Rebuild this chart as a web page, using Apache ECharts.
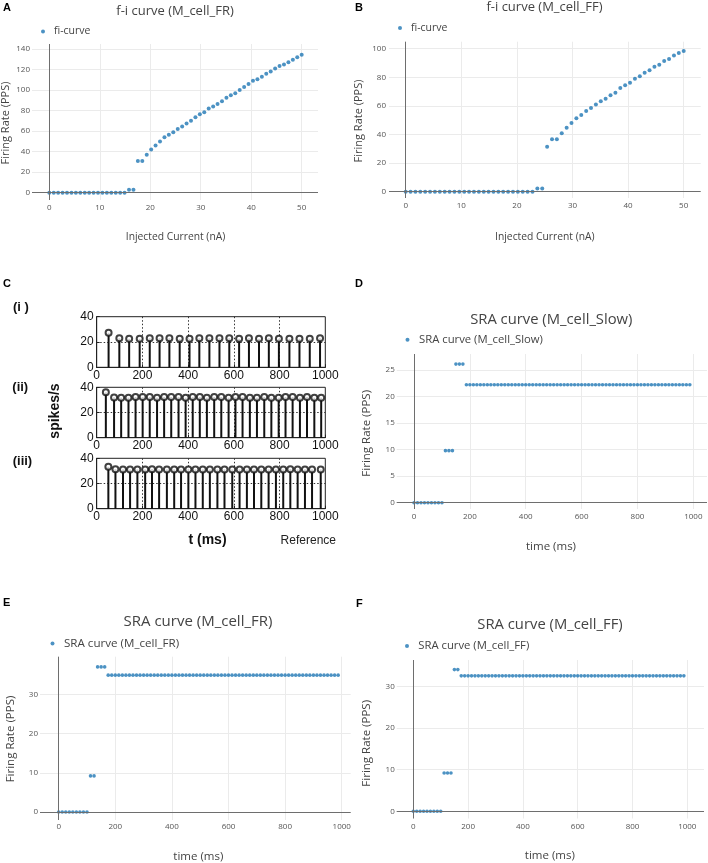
<!DOCTYPE html>
<html><head><meta charset="utf-8">
<script src="https://cdn.jsdelivr.net/npm/echarts@6/dist/echarts.min.js"></script>
<style>html,body{margin:0;padding:0;background:#fff}#c{width:708px;height:863px}</style>
</head><body><div id="c"></div>
<script>
// ---------- data ----------
const fiCurrent = [0,0.88,1.75,2.63,3.51,4.39,5.26,6.14,7.02,7.89,
  8.77,9.65,10.53,11.4,12.28,13.16,14.04,14.91,15.79,16.67,
  17.54,18.42,19.3,20.18,21.05,21.93,22.81,23.68,24.56,25.44,
  26.32,27.19,28.07,28.95,29.82,30.7,31.58,32.46,33.33,34.21,
  35.09,35.96,36.84,37.72,38.6,39.47,40.35,41.23,42.11,42.98,
  43.86,44.74,45.61,46.49,47.37,48.25,49.12,50];
const fiRateFR = [0,0,0,0,0,0,0,0,0,0,
  0,0,0,0,0,0,0,0,3,3,
  31,31,37,42,46,50,54,56.5,59,62,
  64.5,67.5,70,73.5,76.5,78.5,82,84,86.5,89,
  92.5,95,97,100,103,106,109,110.5,113,116,
  118,121,123.5,125,127,129.5,132,134.5];
const fiRateFF = [0,0,0,0,0,0,0,0,0,0,
  0,0,0,0,0,0,0,0,0,0,
  0,0,0,0,0,0,0,2.3,2.3,31.5,
  36.6,36.6,40.8,44.8,48,51.3,53.6,56.4,58.5,61,
  63.2,65,67.4,69.2,72.5,74.4,76.2,79,80.7,83.2,
  85,87.4,88.8,91.4,92.8,95.3,97,98.4];

const sraTime = [0,12.5,25,37.5,50,62.5,75,87.5,100,112.5,
  125,137.5,150,162.5,175,187.5,200,212.5,225,237.5,
  250,262.5,275,287.5,300,312.5,325,337.5,350,362.5,
  375,387.5,400,412.5,425,437.5,450,462.5,475,487.5,
  500,512.5,525,537.5,550,562.5,575,587.5,600,612.5,
  625,637.5,650,662.5,675,687.5,700,712.5,725,737.5,
  750,762.5,775,787.5,800,812.5,825,837.5,850,862.5,
  875,887.5,900,912.5,925,937.5,950,962.5,975,987.5];
const sraSlow = [0,0,0,0,0,0,0,0,0,9.8,
  9.8,9.8,26.1,26.1,26.1,22.2,22.2,22.2,22.2,22.2,
  22.2,22.2,22.2,22.2,22.2,22.2,22.2,22.2,22.2,22.2,
  22.2,22.2,22.2,22.2,22.2,22.2,22.2,22.2,22.2,22.2,
  22.2,22.2,22.2,22.2,22.2,22.2,22.2,22.2,22.2,22.2,
  22.2,22.2,22.2,22.2,22.2,22.2,22.2,22.2,22.2,22.2,
  22.2,22.2,22.2,22.2,22.2,22.2,22.2,22.2,22.2,22.2,
  22.2,22.2,22.2,22.2,22.2,22.2,22.2,22.2,22.2,22.2];
const sraFR = [0,0,0,0,0,0,0,0,0,9.2,
  9.2,37,37,37,34.9,34.9,34.9,34.9,34.9,34.9,
  34.9,34.9,34.9,34.9,34.9,34.9,34.9,34.9,34.9,34.9,
  34.9,34.9,34.9,34.9,34.9,34.9,34.9,34.9,34.9,34.9,
  34.9,34.9,34.9,34.9,34.9,34.9,34.9,34.9,34.9,34.9,
  34.9,34.9,34.9,34.9,34.9,34.9,34.9,34.9,34.9,34.9,
  34.9,34.9,34.9,34.9,34.9,34.9,34.9,34.9,34.9,34.9,
  34.9,34.9,34.9,34.9,34.9,34.9,34.9,34.9,34.9,34.9];
const sraFF = [0,0,0,0,0,0,0,0,0,9.2,
  9.2,9.2,34,34,32.5,32.5,32.5,32.5,32.5,32.5,
  32.5,32.5,32.5,32.5,32.5,32.5,32.5,32.5,32.5,32.5,
  32.5,32.5,32.5,32.5,32.5,32.5,32.5,32.5,32.5,32.5,
  32.5,32.5,32.5,32.5,32.5,32.5,32.5,32.5,32.5,32.5,
  32.5,32.5,32.5,32.5,32.5,32.5,32.5,32.5,32.5,32.5,
  32.5,32.5,32.5,32.5,32.5,32.5,32.5,32.5,32.5,32.5,
  32.5,32.5,32.5,32.5,32.5,32.5,32.5,32.5,32.5,32.5];

// reference (panel C) stem plots
const refT1 = [52,99,142,188,232,275,318,363,406,449,493,537,580,623,666,710,753,797,843,887,932,977];
const refV1 = [27.3,23,22.5,22.5,23,23,23,22.5,22.5,23,23,23,23,22.5,23,22.5,23,22.5,22.5,22.5,22.5,23];
const refT2 = [40,76,107,139,170,201,232,264,295,326,358,389,420,451,482,514,545,577,607,638,670,701,733,764,796,826,857,889,920,952,982];
const refV2 = [36,32,31.8,31.8,32.3,32.3,32.3,31.8,32.3,32.3,32.3,31.8,32.3,32.3,31.8,32.3,32.3,31.8,32.3,32.3,31.8,31.8,32.3,31.8,31.8,32.3,32.3,31.8,32.3,31.8,31.8];
const refT3 = [51,82,115,146,178,212,242,273,307,339,369,401,432,464,495,528,559,593,625,657,688,720,752,784,816,847,879,911,942,980];
const refV3 = [33.2,31.4,31.2,31.2,31.2,31.2,31.4,31.2,31.2,31.2,31.2,31.2,31.2,31.2,31.2,31.2,31.2,31.2,31.2,31.2,31.2,31.2,31.2,31.2,31.2,31.4,31.2,31.2,31.2,31.2];

// tick labels
const fiXTicks = [0,10,20,30,40,50];
const fiFRYTicks = [0,20,40,60,80,100,120,140];
const fiFFYTicks = [0,20,40,60,80,100];
const sraXTicks = [0,200,400,600,800,1000];
const slowYTicks = [0,5,10,15,20,25];
const frYTicks = [0,10,20,30];
const ffYTicks = [0,10,20,30];

// ---------- helpers ----------
function zip(xs, ys){ return xs.map((x,i)=>[x, ys[i]]); }
const BLUE = '#1f77b4';
const PF = '"Open Sans", "DejaVu Sans", sans-serif';
const MF = '"Liberation Sans", Arial, sans-serif';

const grids = [], xAxes = [], yAxes = [], series = [];

function plotlyPanel(p){
  const idx = grids.length;
  grids.push({left:p.rect[0], top:p.rect[1], width:p.rect[2], height:p.rect[3], containLabel:false});
  xAxes.push({type:'value', gridIndex:idx, min:p.xr[0], max:p.xr[1],
    axisLine:{show:false}, axisTick:{show:false, customValues:p.xt},
    axisLabel:{customValues:p.xt, fontSize:8, color:'#555', fontFamily:PF, margin:p.xm, formatter:v=>String(v)},
    splitLine:{show:true, lineStyle:{color:'#ebebeb', width:1}}});
  yAxes.push({type:'value', gridIndex:idx, min:p.yr[0], max:p.yr[1],
    axisLine:{show:false}, axisTick:{show:false, customValues:p.yt},
    axisLabel:{customValues:p.yt, fontSize:8, color:'#555', fontFamily:PF, margin:p.ym, formatter:v=>String(v)},
    splitLine:{show:true, lineStyle:{color:'#ebebeb', width:1}}});
  series.push({type:'scatter', name:p.name, xAxisIndex:idx, yAxisIndex:idx,
    data: zip(p.xs, p.ys), symbolSize:p.ss, itemStyle:{color:BLUE}, silent:true,
    markLine:{silent:true, symbol:'none', label:{show:false},
      lineStyle:{color:'#6e6e6e', width:1, type:'solid'},
      data:[{yAxis:0},{xAxis:0}]}});
}

function stemPanel(p){
  const idx = grids.length;
  grids.push({left:p.rect[0], top:p.rect[1], width:p.rect[2], height:p.rect[3],
    show:true, borderColor:'#222', borderWidth:1, containLabel:false});
  xAxes.push({type:'value', gridIndex:idx, min:0, max:1000, interval:200,
    axisLine:{show:true, onZero:false, lineStyle:{color:'#222'}},
    axisTick:{show:true, inside:true, length:3, lineStyle:{color:'#222'}},
    axisLabel:{fontSize:12, color:'#111', fontFamily:MF, margin:2, formatter:v=>String(v)},
    splitLine:{show:true, showMinLine:false, showMaxLine:false, lineStyle:{color:'#333', type:[1.5,2], width:1}}});
  yAxes.push({type:'value', gridIndex:idx, min:0, max:40, interval:20,
    axisLine:{show:true, onZero:false, lineStyle:{color:'#222'}},
    axisTick:{show:true, inside:true, length:3, lineStyle:{color:'#222'}},
    axisLabel:{fontSize:12, color:'#111', fontFamily:MF, margin:3},
    splitLine:{show:true, showMinLine:false, showMaxLine:false, lineStyle:{color:'#333', type:[1.5,2], width:1}}});
  series.push({type:'bar', name:'stem'+idx, xAxisIndex:idx, yAxisIndex:idx,
    data: zip(p.t, p.v), barWidth:2, itemStyle:{color:'#111'}, silent:true});
  series.push({type:'scatter', name:'head'+idx, xAxisIndex:idx, yAxisIndex:idx,
    data: zip(p.t, p.v), symbol:'emptyCircle', symbolSize:6,
    itemStyle:{color:'#111', borderColor:'#111', borderWidth:1.3}, silent:true});
}

// A
plotlyPanel({rect:[32,44,286,156], xr:[-3.43,53.23], yr:[-7.1,144.9], xt:fiXTicks, yt:fiFRYTicks,
  xm:4, ym:2, name:'fi-curve', xs:fiCurrent, ys:fiRateFR, ss:4});
// B
plotlyPanel({rect:[389,41.7,311.7,156.3], xr:[-3.0,53.06], yr:[-4.4,104.9], xt:fiXTicks, yt:fiFFYTicks,
  xm:4, ym:3, name:'fi-curve', xs:fiCurrent, ys:fiRateFF, ss:4});
// C (i)-(iii)
stemPanel({rect:[96.7,316.7,228.6,50.6], t:refT1, v:refV1});
stemPanel({rect:[96.7,387.3,228.6,50.4], t:refT2, v:refV2});
stemPanel({rect:[96.7,458.3,228.6,50.4], t:refT3, v:refV3});
// D
plotlyPanel({rect:[396.7,354,310.3,155], xr:[-62,1049], yr:[-1.19,28.0], xt:sraXTicks, yt:slowYTicks,
  xm:4, ym:2, name:'SRA curve (M_cell_Slow)', xs:sraTime, ys:sraSlow, ss:3.6});
// E
plotlyPanel({rect:[40,656.7,310.7,163.3], xr:[-66,1031.8], yr:[-2.04,39.6], xt:sraXTicks, yt:frYTicks,
  xm:3, ym:2, name:'SRA curve (M_cell_FR)', xs:sraTime, ys:sraFR, ss:3.6});
// F
plotlyPanel({rect:[396.7,660,307.3,158.5], xr:[-60.6,1061], yr:[-1.73,36.3], xt:sraXTicks, yt:ffYTicks,
  xm:4, ym:2, name:'SRA curve (M_cell_FF)', xs:sraTime, ys:sraFF, ss:3.6});

function legend(name, left, cy, w, fs){
  return {left:left, top:cy - fs/2 - 0.5, padding:0, itemWidth:w, itemHeight:4, itemGap:0,
    icon:'circle', selectedMode:false, data:[name],
    textStyle:{fontSize:fs, color:'#444', fontFamily:PF}};
}
const legends = [
  legend('fi-curve', 41, 31.7, 12, 10.5),
  legend('fi-curve', 398, 28.3, 12, 10.5),
  legend('SRA curve (M_cell_Slow)', 405.5, 340.3, 13, 11.3),
  legend('SRA curve (M_cell_FR)', 50.5, 643.7, 13, 11.6),
  legend('SRA curve (M_cell_FF)', 405, 646.7, 12.5, 11.3)
];

function txt(s, x, y, font, opts){
  opts = opts || {};
  return {type:'text', x:x, y:y, rotation:opts.rot || 0, silent:true,
    style:{text:s, font:font, fill:opts.fill || '#444', align:opts.align || 'center', verticalAlign:'middle'}};
}
const ROT = Math.PI/2;
const graphics = [
  // panel letters
  txt('A', 3, 8, 'bold 11px ' + MF, {fill:'#000', align:'left'}),
  txt('B', 355, 7.5, 'bold 11px ' + MF, {fill:'#000', align:'left'}),
  txt('C', 3, 284, 'bold 11px ' + MF, {fill:'#000', align:'left'}),
  txt('D', 355, 284, 'bold 11px ' + MF, {fill:'#000', align:'left'}),
  txt('E', 3, 603, 'bold 11px ' + MF, {fill:'#000', align:'left'}),
  txt('F', 356, 603.5, 'bold 11px ' + MF, {fill:'#000', align:'left'}),
  // titles
  txt('f-i curve (M_cell_FR)', 175, 11, '13px ' + PF),
  txt('f-i curve (M_cell_FF)', 544.5, 7.5, '13px ' + PF),
  txt('SRA curve (M_cell_Slow)', 551.3, 319.3, '14.8px ' + PF),
  txt('SRA curve (M_cell_FR)', 198, 621.7, '15px ' + PF),
  txt('SRA curve (M_cell_FF)', 550, 625, '14.8px ' + PF),
  // axis names
  txt('Injected Current (nA)', 175.5, 237, '10.3px ' + PF),
  txt('Firing Rate (PPS)', 6, 123, '11px ' + PF, {rot:ROT}),
  txt('Injected Current (nA)', 544.8, 236.7, '10.3px ' + PF),
  txt('Firing Rate (PPS)', 358.5, 121, '11px ' + PF, {rot:ROT}),
  txt('time (ms)', 551, 547, '11.5px ' + PF),
  txt('Firing Rate (PPS)', 366.3, 433.3, '11.5px ' + PF, {rot:ROT}),
  txt('time (ms)', 198.3, 856.7, '11.5px ' + PF),
  txt('Firing Rate (PPS)', 11, 739, '11.5px ' + PF, {rot:ROT}),
  txt('time (ms)', 549.8, 856, '11.5px ' + PF),
  txt('Firing Rate (PPS)', 366.3, 743.3, '11.5px ' + PF, {rot:ROT}),
  // panel C texts
  txt('(i )', 13, 307.5, 'bold 13px ' + MF, {fill:'#111', align:'left'}),
  txt('(ii)', 12.3, 387, 'bold 13px ' + MF, {fill:'#111', align:'left'}),
  txt('(iii)', 12.7, 461.7, 'bold 13px ' + MF, {fill:'#111', align:'left'}),
  txt('spikes/s', 55, 411, 'bold 14px ' + MF, {fill:'#111', rot:ROT}),
  txt('t (ms)', 207.5, 540, 'bold 14px ' + MF, {fill:'#111'}),
  txt('Reference', 308.3, 541, '12px ' + MF, {fill:'#222'})
];

const chart = echarts.init(document.getElementById('c'), null, {renderer:'canvas'});
chart.setOption({
  animation:false,
  backgroundColor:'#fff',
  grid:grids, xAxis:xAxes, yAxis:yAxes, series:series,
  legend:legends, graphic:graphics
});
</script>
</body></html>
